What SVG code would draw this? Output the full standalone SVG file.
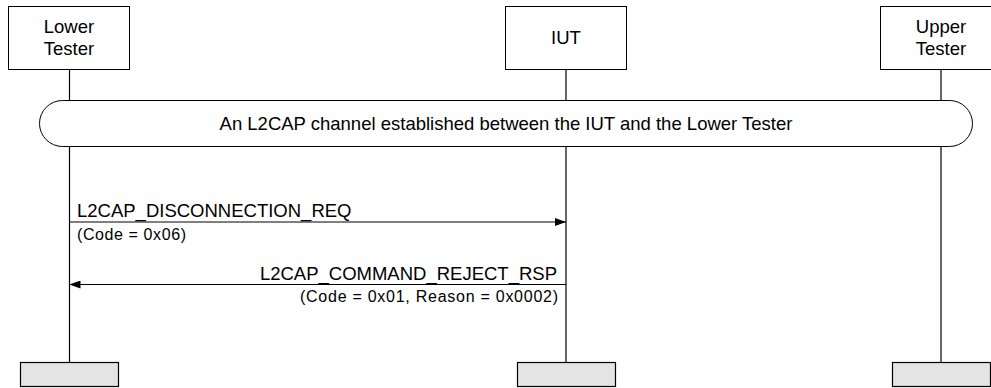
<svg xmlns="http://www.w3.org/2000/svg" width="991" height="388" viewBox="0 0 991 388">
<style>
text{font-family:"Liberation Sans",Arial,sans-serif;fill:#000}
.hd{fill:#fff;stroke:#000;stroke-width:1}
.ft{fill:#e4e4e4;stroke:#000;stroke-width:1.2}
.ll{stroke:#000;stroke-width:1.2;fill:none}
.msg{stroke:#000;stroke-width:1;fill:none}
.t18{font-size:18.5px}
.t16{font-size:16px}
</style>
<defs>
<marker id="ah" markerWidth="11" markerHeight="8" refX="11" refY="4" orient="auto" markerUnits="userSpaceOnUse">
<path d="M0,0 L11,4 L0,8 Z" fill="#000"/>
</marker>
</defs>
<rect width="991" height="388" fill="#fff"/>
<g id="lifelines">
<line class="ll" x1="69.5" y1="70" x2="69.5" y2="362"/>
<line class="ll" x1="566" y1="70" x2="566" y2="362"/>
<line class="ll" x1="941" y1="70" x2="941" y2="362"/>
</g>
<g id="lower">
<rect class="hd" x="8.5" y="6.5" width="121" height="63"/>
<text class="t18" x="69" y="33" text-anchor="middle">Lower</text>
<text class="t18" x="69" y="55" text-anchor="middle">Tester</text>
<rect class="ft" x="20.5" y="362.5" width="98" height="24"/>
</g>
<g id="iut">
<rect class="hd" x="505.5" y="6.5" width="121" height="63"/>
<text class="t18" x="566" y="43.5" text-anchor="middle">IUT</text>
<rect class="ft" x="517.5" y="362.5" width="98" height="24"/>
</g>
<g id="upper">
<rect class="hd" x="880.5" y="6.5" width="121" height="63"/>
<text class="t18" x="941" y="33" text-anchor="middle">Upper</text>
<text class="t18" x="941" y="55" text-anchor="middle">Tester</text>
<rect class="ft" x="892.5" y="362.5" width="98" height="24"/>
</g>
<g id="banner">
<rect class="hd" x="39.5" y="100.5" width="933" height="46" rx="23" ry="23"/>
<text class="t18" x="506" y="130" text-anchor="middle">An L2CAP channel established between the IUT and the Lower Tester</text>
</g>
<g id="connectors">
<line class="msg" x1="69.5" y1="222" x2="566" y2="222" marker-end="url(#ah)"/>
<text class="t18" x="77" y="217">L2CAP_DISCONNECTION_REQ</text>
<text class="t16" x="77" y="240" textLength="109" lengthAdjust="spacing">(Code = 0x06)</text>
<line class="msg" x1="566" y1="284.5" x2="69.5" y2="284.5" marker-end="url(#ah)"/>
<text class="t18" x="557" y="280" text-anchor="end">L2CAP_COMMAND_REJECT_RSP</text>
<text class="t16" x="300" y="302" textLength="258" lengthAdjust="spacing">(Code = 0x01, Reason = 0x0002)</text>
</g>
</svg>
